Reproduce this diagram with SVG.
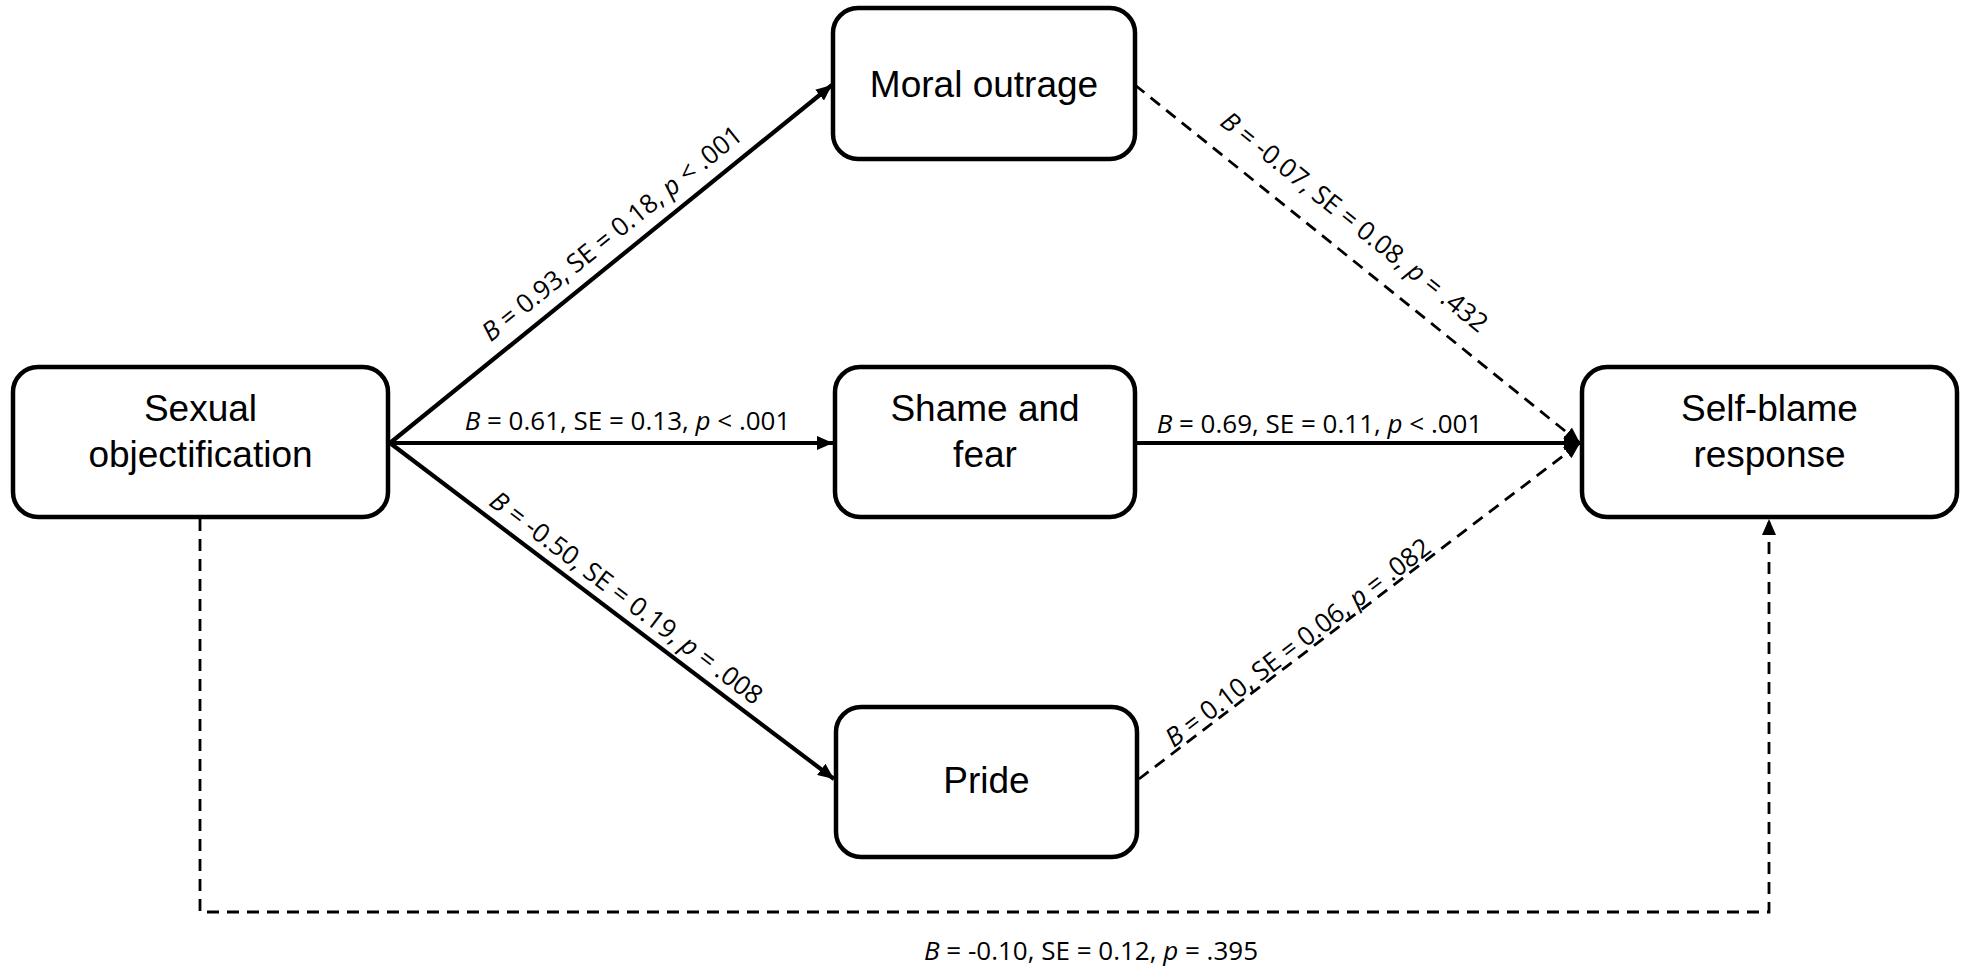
<svg xmlns="http://www.w3.org/2000/svg" width="1963" height="970" viewBox="0 0 1963 970">
<style>
.box{fill:#fff;stroke:#000;stroke-width:4.5}
.nt{font-family:"Liberation Sans",Arial,sans-serif;font-size:37px;fill:#000;text-anchor:middle}
.lbl{font-family:"Open Sans","Liberation Sans",sans-serif;font-size:26px;fill:#000;text-anchor:middle}
.solid{fill:none;stroke:#000;stroke-width:4.2}
.dash{fill:none;stroke:#000;stroke-width:2.8;stroke-dasharray:12 8}
</style>
<defs>
<marker id="arr" viewBox="0 0 16 14" refX="16" refY="7" markerWidth="16" markerHeight="14" orient="auto" markerUnits="userSpaceOnUse">
<path d="M0,0 L16,7 L0,14 z" fill="#000"/>
</marker>
</defs>
<rect width="1963" height="970" fill="#fff"/>
<g id="connectors">
<line class="solid" x1="390" y1="443" x2="832" y2="85" marker-end="url(#arr)"/>
<line class="solid" x1="390" y1="443" x2="833" y2="443" marker-end="url(#arr)"/>
<line class="solid" x1="390" y1="443" x2="834" y2="779" marker-end="url(#arr)"/>
<line class="dash" x1="1135" y1="85" x2="1580" y2="443" marker-end="url(#arr)"/>
<line class="solid" x1="1135" y1="443" x2="1580" y2="443" marker-end="url(#arr)"/>
<line class="dash" x1="1139" y1="779" x2="1580" y2="443" marker-end="url(#arr)"/>
<path class="dash" d="M200,519 V912 H1769 V519" marker-end="url(#arr)"/>
<g class="lbl">
<text transform="translate(627,252) rotate(-38.86)" x="0" y="-15"><tspan font-style="italic">B</tspan> = 0.93, SE = 0.18, <tspan font-style="italic">p</tspan> &lt; .001</text>
<text x="627.5" y="430"><tspan font-style="italic">B</tspan> = 0.61, SE = 0.13, <tspan font-style="italic">p</tspan> &lt; .001</text>
<text transform="translate(615,613) rotate(37.12)" x="0" y="-10"><tspan font-style="italic">B</tspan> = -0.50, SE = 0.19, <tspan font-style="italic">p</tspan> = .008</text>
<text transform="translate(1335,246) rotate(38.82)" x="0" y="-22"><tspan font-style="italic">B</tspan> = -0.07, SE = 0.08, <tspan font-style="italic">p</tspan> = .432</text>
<text x="1319.5" y="433"><tspan font-style="italic">B</tspan> = 0.69, SE = 0.11, <tspan font-style="italic">p</tspan> &lt; .001</text>
<text transform="translate(1305,652) rotate(-37.3)" x="0" y="-3"><tspan font-style="italic">B</tspan> = 0.10, SE = 0.06, <tspan font-style="italic">p</tspan> = .082</text>
<text x="1091" y="960"><tspan font-style="italic">B</tspan> = -0.10, SE = 0.12, <tspan font-style="italic">p</tspan> = .395</text>
</g>
</g>
<g id="node-sexual">
<rect class="box" x="13" y="367" width="375" height="150" rx="25"/>
<text class="nt" x="200.5" y="421">Sexual</text>
<text class="nt" x="200.5" y="467">objectification</text>
</g>
<g id="node-moral">
<rect class="box" x="833" y="8" width="302" height="151" rx="25"/>
<text class="nt" x="984" y="97">Moral outrage</text>
</g>
<g id="node-shame">
<rect class="box" x="835" y="367" width="300" height="150" rx="25"/>
<text class="nt" x="985" y="421">Shame and</text>
<text class="nt" x="985" y="467">fear</text>
</g>
<g id="node-pride">
<rect class="box" x="836" y="707" width="301" height="150" rx="25"/>
<text class="nt" x="986.5" y="793">Pride</text>
</g>
<g id="node-selfblame">
<rect class="box" x="1582" y="367" width="375" height="150" rx="25"/>
<text class="nt" x="1769.5" y="421">Self-blame</text>
<text class="nt" x="1769.5" y="467">response</text>
</g>
</svg>
